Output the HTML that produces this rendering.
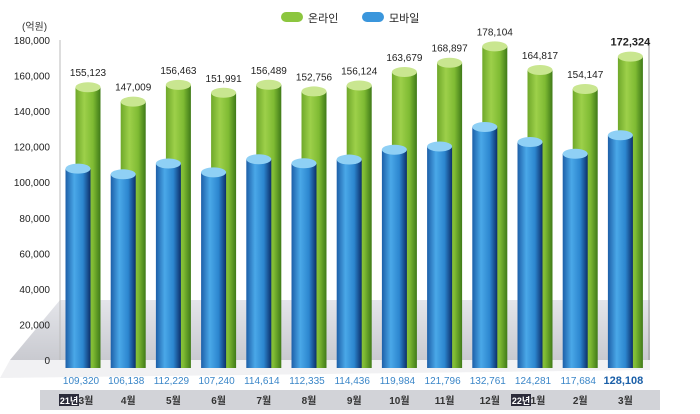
<!DOCTYPE html>
<html><head><meta charset="utf-8">
<style>
html,body{margin:0;padding:0;background:#fff;}
svg{display:block;font-family:"Liberation Sans","Noto Sans CJK KR",sans-serif;}
</style></head>
<body>
<svg id="chart" width="700" height="414" viewBox="0 0 700 414">
<defs>
<linearGradient id="gG" x1="0" x2="1"><stop offset="0" stop-color="#6fa82a"/><stop offset="0.35" stop-color="#9dd04a"/><stop offset="0.7" stop-color="#7fbb33"/><stop offset="1" stop-color="#3f7a18"/></linearGradient>
<linearGradient id="gB" x1="0" x2="1"><stop offset="0" stop-color="#1d5fa8"/><stop offset="0.35" stop-color="#4aa8e8"/><stop offset="0.7" stop-color="#2c86cf"/><stop offset="1" stop-color="#0d2f6a"/></linearGradient>
<linearGradient id="floor" x1="0" y1="0" x2="0" y2="1"><stop offset="0" stop-color="#e4e5ea"/><stop offset="1" stop-color="#c9cad0"/></linearGradient>
</defs>
<rect x="0" y="0" width="700" height="414" fill="#fff"/>
<polygon points="60,300 650,300 650,360 10,360" fill="url(#floor)"/>
<polygon points="10,360 650,360 650,370 0,378" fill="#f1f1f3"/>
<rect x="40" y="390" width="620" height="20" fill="#d2d3d8"/>
<line x1="60" y1="40" x2="60" y2="360" stroke="#bbb"/>
<line x1="649" y1="40" x2="649" y2="360" stroke="#999"/>
<text x="22" y="30" font-size="10" fill="#333">(억원)</text>
<g id="yticks"></g>
<g id="bars"></g>
<g id="legend">
<g>
<rect x="281" y="12" width="22" height="10" rx="5" fill="#8cc63f"/>
<text x="308" y="22" font-size="11" fill="#222">온라인</text></g>
<g>
<rect x="362" y="12" width="22" height="10" rx="5" fill="#3a96dc"/>
<text x="389" y="22" font-size="11" fill="#222">모바일</text></g>
</g>
</svg>
<script>
const categories=["3월","4월","5월","6월","7월","8월","9월","10월","11월","12월","1월","2월","3월"];
const online=[155123,147009,156463,151991,156489,152756,156124,163679,168897,178104,164817,154147,172324];
const mobile=[109320,106138,112229,107240,114614,112335,114436,119984,121796,132761,124281,117684,128108];
const yTicks=[0,20000,40000,60000,80000,100000,120000,140000,160000,180000];
const NS="http://www.w3.org/2000/svg";
const y0=360,yTop=40,yMax=180000;
function y(v){return y0-(v/yMax)*(y0-yTop);}
function x(i){return 78+i*45.2;}
function mk(tag,attrs,parent){const e=document.createElementNS(NS,tag);for(const k in attrs)e.setAttribute(k,attrs[k]);parent.appendChild(e);return e;}
const yt=document.getElementById('yticks');
yTicks.forEach(v=>{
  const t=mk('text',{x:50,y:y(v)+4,'text-anchor':'end','font-size':10,fill:'#222'},yt);
  
  
  t.textContent=v.toLocaleString('en-US');
});
const g=document.getElementById('bars');
function bar(cx,v,fill,cap,name){
  const w=25,top=y(v)+3,bot=368;
  const r=mk('rect',{x:cx-w/2,y:top,width:w,height:bot-top,fill:fill},g);
  
  
  const c=mk('ellipse',{cx:cx,cy:top,rx:w/2,ry:5,fill:cap},g);
  
  
}
const badgeIdx=[0,10];
categories.forEach((c,i)=>{
  bar(x(i)+10,online[i],'url(#gG)','#c9e690','bar-online');
  bar(x(i),mobile[i],'url(#gB)','#8fd0f5','bar-mobile');
  const last=i===categories.length-1;
  const t=mk('text',{x:x(i)+10,y:y(online[i])-8,'text-anchor':'middle','font-size':last?11:10,'font-weight':last?'bold':'normal',fill:'#222'},g);
  
  
  t.textContent=online[i].toLocaleString('en-US');
  const m=mk('text',{x:x(i)+3,y:384,'text-anchor':'middle','font-size':last?11:10,'font-weight':last?'bold':'normal',fill:last?'#1a5fa8':'#3a86c8'},g);
  
  
  m.textContent=mobile[i].toLocaleString('en-US');
  const lx=badgeIdx.includes(i)?x(i)+8:x(i)+5;
  const l=mk('text',{x:lx,y:404,'text-anchor':'middle','font-size':10,'font-weight':'bold',fill:'#333'},g);
  
  
  l.textContent=c;
});
[[0,"21년"],[10,"22년"]].forEach(([i,s])=>{
  const b=mk('rect',{x:x(i)-19,y:394,width:20,height:12,fill:'#2b2b3a'},g);
  
  
  const t=mk('text',{x:x(i)-9,y:404,'text-anchor':'middle','font-size':9,'font-weight':'bold',fill:'#fff'},g);
  
  
  t.textContent=s;
});
</script>
</body></html>
